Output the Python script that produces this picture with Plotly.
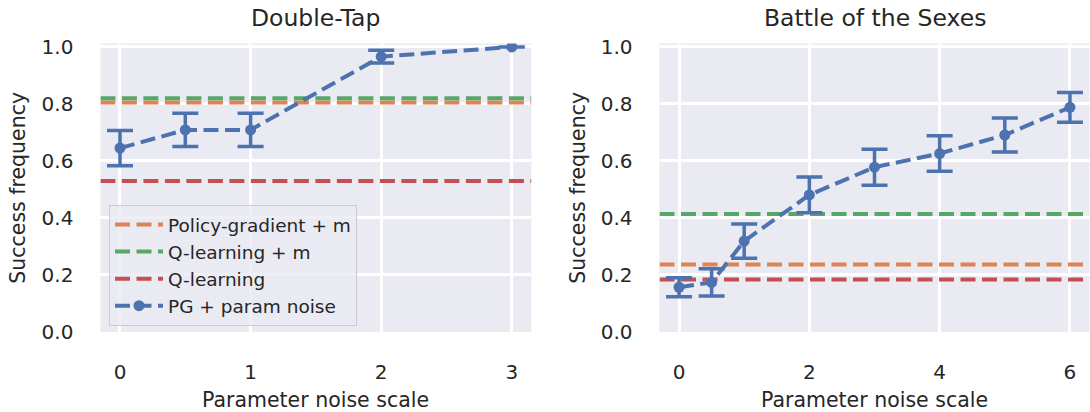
import plotly.graph_objects as go

# ---- data ----
dt_noise = [0, 0.5, 1, 2, 3]
dt_success = [0.645, 0.709, 0.709, 0.966, 1.0]
dt_err = [0.062, 0.058, 0.058, 0.022, 0.0]
dt_pg_m = 0.805
dt_q_m = 0.82
dt_q = 0.53

bos_noise = [0, 0.5, 1, 2, 3, 4, 5, 6]
bos_success = [0.157, 0.174, 0.319, 0.481, 0.578, 0.626, 0.691, 0.788]
bos_err = [0.033, 0.048, 0.06, 0.063, 0.063, 0.062, 0.06, 0.052]
bos_pg_m = 0.237
bos_q_m = 0.414
bos_q = 0.184

series_names = ["Policy-gradient + m", "Q-learning + m", "Q-learning", "PG + param noise"]
titles = ["Double-Tap", "Battle of the Sexes"]
x_title = "Parameter noise scale"
y_title = "Success frequency"

# ---- style ----
BLUE, ORANGE, GREEN, RED = "#4C72B0", "#DD8452", "#55A868", "#C44E52"
TXT = "#262626"
FONT = "DejaVu Sans"
DASH = "15px,6.5px"

W, H = 1090, 412


def fx(px):
    return px / W


def fy(py):
    return 1 - py / H


x1_range = [-0.15, 3.15]
x2_range = [-0.3, 6.3]
y_range = [0.0, 1.012]

fig = go.Figure()


def add_panel(xa, ya, xr, hvals, xs, ys, es, showlegend):
    for name, val, col in zip(series_names[:3], hvals, [ORANGE, GREEN, RED]):
        fig.add_trace(go.Scatter(
            x=xr, y=[val, val], mode="lines", name=name,
            line=dict(color=col, width=4, dash=DASH),
            xaxis=xa, yaxis=ya, showlegend=showlegend, hoverinfo="skip"))
    fig.add_trace(go.Scatter(
        x=xs, y=ys, mode="lines+markers", name=series_names[3],
        line=dict(color=BLUE, width=4, dash=DASH),
        marker=dict(color=BLUE, size=11),
        error_y=dict(type="data", array=es, color=BLUE, thickness=3.5, width=13),
        xaxis=xa, yaxis=ya, showlegend=showlegend))


add_panel("x", "y", x1_range, [dt_pg_m, dt_q_m, dt_q], dt_noise, dt_success, dt_err, True)
add_panel("x2", "y2", x2_range, [bos_pg_m, bos_q_m, bos_q], bos_noise, bos_success, bos_err, False)

ydom = [fy(332), fy(43.5)]
xd1 = [fx(100.4), fx(531.4)]
xd2 = [fx(659.5), fx(1089.5)]

axis_common = dict(
    showgrid=True, gridcolor="white", gridwidth=2.6, zeroline=False, automargin=False,
    showline=False, ticks="", tickfont=dict(family=FONT, size=20, color=TXT),
)

fig.update_layout(
    width=W, height=H,
    margin=dict(l=0, r=0, t=0, b=0, autoexpand=False),
    paper_bgcolor="white", plot_bgcolor="#EAEAF2",
    font=dict(family=FONT, color=TXT),
    xaxis=dict(domain=xd1, range=x1_range, tick0=0, dtick=1, anchor="y",
               ticklabelstandoff=26, **axis_common),
    yaxis=dict(domain=ydom, range=y_range, tick0=0, dtick=0.2, tickformat=".1f", anchor="x",
               ticklabelstandoff=26, **axis_common),
    xaxis2=dict(domain=xd2, range=x2_range, tick0=0, dtick=2, anchor="y2",
                ticklabelstandoff=26, **axis_common),
    yaxis2=dict(domain=ydom, range=y_range, tick0=0, dtick=0.2, tickformat=".1f", anchor="x2",
                ticklabelstandoff=26, **axis_common),
    legend=dict(
        x=fx(109), y=fy(205), xanchor="left", yanchor="top",
        bgcolor="rgba(234,234,242,0.8)", bordercolor="#cccccc", borderwidth=1,
        font=dict(family=FONT, size=18.5, color=TXT), tracegroupgap=0, itemwidth=48,
    ),
)

ann = []
for t, xd in zip(titles, [xd1, xd2]):
    ann.append(dict(text=t, x=sum(xd) / 2, y=fy(18), xref="paper", yref="paper",
                    showarrow=False, xanchor="center", yanchor="middle",
                    font=dict(family=FONT, size=23.5, color=TXT)))
    ann.append(dict(text=x_title, x=sum(xd) / 2, y=fy(400), xref="paper", yref="paper",
                    showarrow=False, xanchor="center", yanchor="middle",
                    font=dict(family=FONT, size=20.5, color=TXT)))
for xc in [18, 578]:
    ann.append(dict(text=y_title, x=fx(xc), y=sum(ydom) / 2, xref="paper", yref="paper",
                    showarrow=False, xanchor="center", yanchor="middle", textangle=-90,
                    font=dict(family=FONT, size=20.5, color=TXT)))
fig.update_layout(annotations=ann)

# remove the default 8px page margin so the 1090x412 figure fills the window exactly
fig.write_html("out.html", config={"displayModeBar": False},
               post_script="document.body.style.margin='0px';")
